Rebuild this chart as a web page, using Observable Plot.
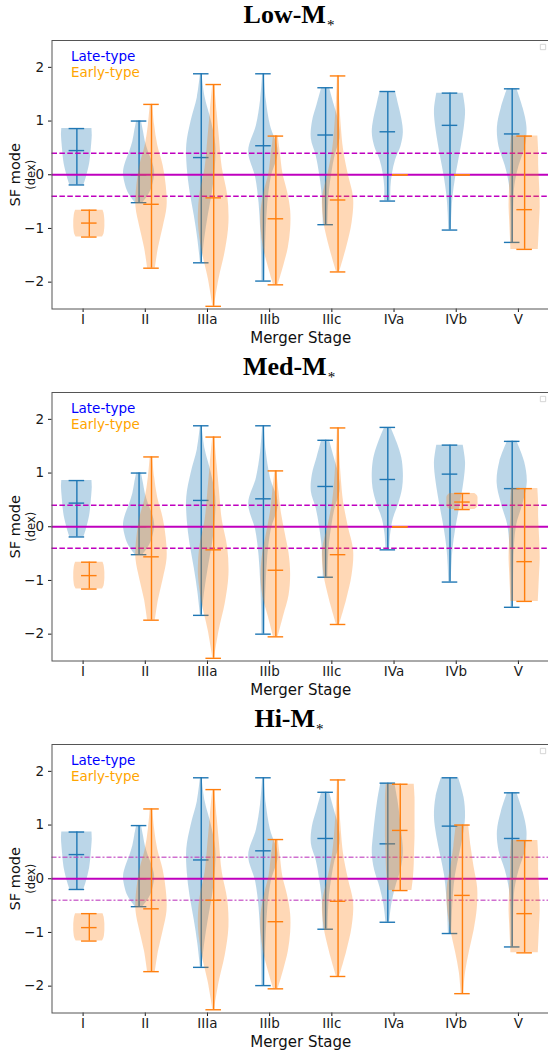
<!DOCTYPE html>
<html>
<head>
<meta charset="utf-8">
<script src="https://cdn.jsdelivr.net/npm/d3@7"></script>
<script src="https://cdn.jsdelivr.net/npm/@observablehq/plot@0.6"></script>
<style>
  html, body { margin: 0; padding: 0; background: #fff; }
  body { width: 548px; height: 1050px; overflow: hidden; }
  #page { position: relative; width: 548px; height: 1050px; }
  .block { position: absolute; left: 0; width: 548px; height: 352px; }
  .title {
    position: absolute; top: 2px; left: 289px; transform: translateX(-50%);
    font: bold 26px "Liberation Serif", "Times New Roman", serif; line-height: 26px;
    white-space: nowrap; color: #000;
  }
  .title .sub { font-size: 15px; font-weight: normal; position: relative; top: 7px; margin-left: 1px; }
  .chart { position: absolute; left: 0; top: 36px; }
</style>
</head>
<body>
<div id="page"></div>
<script>
// Merger stages along the x axis
const stages = ["I", "II", "IIIa", "IIIb", "IIIc", "IVa", "IVb", "V"];
const yTicks = [-2, -1, 0, 1, 2];
const zeroLevel = [0];
const bandLevels = [-0.4, 0.4];

// Violin outlines: relative half-widths sampled evenly from each violin's minimum to its maximum
const shapeLateI    = [0.45, 0.6, 0.72, 0.82, 0.88, 0.92, 0.96, 0.99, 0.97];
const shapeEarlyI   = [0.85, 0.95, 0.98, 1.0, 1.0, 1.0, 0.98, 0.95, 0.88];
const shapeLateII   = [0.25, 0.7, 0.92, 1.0, 0.85, 0.6, 0.4, 0.28, 0.15];
const shapeEarlyII  = [0.25, 0.45, 0.75, 1.0, 0.95, 0.75, 0.4, 0.2, 0.08];
const shapeLateIIIa = [0.05, 0.22, 0.45, 0.72, 0.9, 0.93, 0.65, 0.25, 0.05];
const shapeEarlyIIIa= [0.05, 0.35, 0.75, 0.98, 0.9, 0.55, 0.38, 0.22, 0.06];
const shapeLateIIIb = [0.1, 0.12, 0.18, 0.28, 0.5, 0.95, 0.45, 0.18, 0.05];
const shapeEarlyIIIb= [0.15, 0.5, 0.8, 0.95, 0.95, 0.75, 0.45, 0.3, 0.15];
const shapeEarlyIIIbMed = [0.15, 0.5, 0.85, 0.95, 0.85, 0.6, 0.35, 0.2, 0.06];
const shapeLateIIIc = [0.15, 0.18, 0.25, 0.4, 0.6, 0.92, 0.85, 0.55, 0.25];
const shapeEarlyIIIc= [0.1, 0.55, 0.9, 1.0, 0.65, 0.35, 0.2, 0.1, 0.04];
const shapeLateIVaLow = [0.2, 0.2, 0.3, 0.5, 0.85, 1.0, 0.9, 0.7, 0.5];
const shapeLateIVaMed = [0.12, 0.18, 0.35, 0.7, 0.95, 1.0, 0.9, 0.6, 0.2];
const shapeLateIVaHi  = [0.12, 0.25, 0.5, 0.85, 1.0, 0.92, 0.8, 0.65, 0.45];
const shapeEarlyIVaHi = [0.75, 0.85, 0.9, 0.92, 0.95, 0.95, 0.95, 0.95, 0.9];
const shapeLateIVb    = [0.08, 0.12, 0.2, 0.35, 0.55, 0.75, 0.92, 1.0, 0.85];
const shapeLateIVbHi  = [0.1, 0.15, 0.22, 0.35, 0.6, 0.85, 1.0, 0.9, 0.55];
const shapeEarlyIVbMed= [0.8, 0.95, 1.0, 1.0, 1.0, 1.0, 1.0, 0.95, 0.8];
const shapeEarlyIVbHi = [0.08, 0.2, 0.45, 0.75, 0.95, 0.98, 0.75, 0.55, 0.4];
const shapeLateV      = [0.08, 0.08, 0.1, 0.18, 0.45, 0.85, 0.95, 0.7, 0.3];
const shapeLateVMed   = [0.08, 0.08, 0.1, 0.15, 0.3, 0.7, 0.97, 0.8, 0.3];
const shapeEarlyV     = [0.88, 0.92, 0.96, 1.0, 0.98, 0.94, 0.9, 0.9, 0.85];

// Low-M* : SF mode (dex) extrema and middle line per stage
const lowLateMin  = [-0.19, -0.52, -1.64, -1.98, -0.93, -0.49, -1.03, -1.26];
const lowLateMid  = [0.45, 0.0, 0.32, 0.54, 0.74, 0.80, 0.92, 0.76];
const lowLateMax  = [0.86, 1.00, 1.88, 1.88, 1.62, 1.55, 1.52, 1.60];
const lowEarlyMin = [-1.16, -1.74, -2.45, -2.05, -1.81, 0, 0, -1.39];
const lowEarlyMid = [-0.90, -0.55, -0.43, -0.82, -0.47, 0, 0, -0.65];
const lowEarlyMax = [-0.66, 1.31, 1.68, 0.72, 1.84, 0, 0, 0.72];
const lowLateShape  = [shapeLateI, shapeLateII, shapeLateIIIa, shapeLateIIIb, shapeLateIIIc, shapeLateIVaLow, shapeLateIVb, shapeLateV];
const lowEarlyShape = [shapeEarlyI, shapeEarlyII, shapeEarlyIIIa, shapeEarlyIIIb, shapeEarlyIIIc, null, null, shapeEarlyV];

// Med-M*
const medLateMin  = [-0.19, -0.52, -1.65, -2.00, -0.94, -0.43, -1.03, -1.50];
const medLateMid  = [0.44, 0.0, 0.49, 0.52, 0.75, 0.88, 0.98, 0.71];
const medLateMax  = [0.86, 1.00, 1.88, 1.88, 1.61, 1.85, 1.52, 1.59];
const medEarlyMin = [-1.16, -1.74, -2.45, -2.05, -1.82, 0, 0.32, -1.39];
const medEarlyMid = [-0.91, -0.56, -0.43, -0.81, -0.52, 0, 0.46, -0.65];
const medEarlyMax = [-0.66, 1.30, 1.67, 1.04, 1.84, 0, 0.62, 0.71];
const medLateShape  = [shapeLateI, shapeLateII, shapeLateIIIa, shapeLateIIIb, shapeLateIIIc, shapeLateIVaMed, shapeLateIVb, shapeLateVMed];
const medEarlyShape = [shapeEarlyI, shapeEarlyII, shapeEarlyIIIa, shapeEarlyIIIbMed, shapeEarlyIIIc, null, shapeEarlyIVbMed, shapeEarlyV];

// Hi-M*
const hiLateMin  = [-0.20, -0.52, -1.65, -1.99, -0.94, -0.81, -1.02, -1.27];
const hiLateMid  = [0.45, 0.0, 0.35, 0.52, 0.75, 0.65, 0.98, 0.75];
const hiLateMax  = [0.87, 0.99, 1.88, 1.88, 1.61, 1.78, 1.88, 1.60];
const hiEarlyMin = [-1.16, -1.73, -2.44, -2.05, -1.82, -0.22, -2.14, -1.38];
const hiEarlyMid = [-0.91, -0.56, -0.40, -0.80, -0.42, 0.90, -0.31, -0.65];
const hiEarlyMax = [-0.65, 1.30, 1.66, 0.73, 1.84, 1.76, 1.00, 0.71];
const hiLateShape  = [shapeLateI, shapeLateII, shapeLateIIIa, shapeLateIIIb, shapeLateIIIc, shapeLateIVaHi, shapeLateIVbHi, shapeLateV];
const hiEarlyShape = [shapeEarlyI, shapeEarlyII, shapeEarlyIIIa, shapeEarlyIIIb, shapeEarlyIIIc, shapeEarlyIVaHi, shapeEarlyIVbHi, shapeEarlyV];

const C_LATE = "#1f77b4", C_EARLY = "#ff7f0e";
const HALF_WIDTH = 0.25, CAP_HALF = 0.125;
const LATE_OFFSET = -0.1, EARLY_OFFSET = 0.1;

// Turn per-stage extrema + outline samples into body polygons and line records
function violinData(mins, mids, maxs, shapes, offset, tag) {
  const bodies = [], extents = [];
  stages.forEach((s, i) => {
    const pos = i + 1 + offset;
    extents.push({pos, min: mins[i], mid: mids[i], max: maxs[i]});
    const shape = shapes[i];
    if (!shape) return;
    const n = shape.length;
    shape.forEach((w, k) => {
      const y = mins[i] + (maxs[i] - mins[i]) * k / (n - 1);
      bodies.push({id: tag + i, y, x1: pos - w * HALF_WIDTH, x2: pos + w * HALF_WIDTH});
    });
  });
  return {bodies, extents};
}

function violinMarks(v, color) {
  const spans = v.extents.filter(d => d.max > d.min);
  return [
    Plot.areaX(v.bodies, {y: "y", x1: "x1", x2: "x2", z: "id", fill: color, fillOpacity: 0.3, curve: "catmull-rom"}),
    Plot.ruleX(spans, {x: "pos", y1: "min", y2: "max", stroke: color, strokeWidth: 1.4}),
    ...["min", "mid", "max"].map(k =>
      Plot.ruleY(v.extents, {y: k, x1: d => d.pos - CAP_HALF, x2: d => d.pos + CAP_HALF, stroke: color, strokeWidth: 1.4}))
  ];
}

const fmtY = d => d < 0 ? "\u2212" + Math.abs(d) : String(d);

function panel(late, early, dashStyle) {
  return Plot.plot({
    width: 548, height: 316,
    marginLeft: 51.5, marginRight: -1, marginTop: 4, marginBottom: 43.5,
    style: {fontFamily: "DejaVu Sans, sans-serif", fontSize: "13.5px", color: "#1a1a1a", background: "transparent", overflow: "visible"},
    x: {domain: [0.5, 8.5], ticks: d3.range(1, 9), tickFormat: d => stages[d - 1], tickSize: 3.5, tickPadding: 2, label: null},
    y: {domain: [-2.5, 2.5], ticks: yTicks, tickFormat: fmtY, tickSize: 3.5, tickPadding: 4.5, label: null},
    marks: [
      ...violinMarks(late, C_LATE),
      Plot.ruleY(bandLevels, {stroke: dashStyle.color, strokeWidth: 1.4, strokeDasharray: dashStyle.dash, strokeOpacity: dashStyle.opacity}),
      Plot.ruleY(zeroLevel, {stroke: "#bf00bf", strokeWidth: 2}),
      ...violinMarks(early, C_EARLY),
      Plot.frame({stroke: "#555", strokeWidth: 1}),
      Plot.text(["Late-type"], {frameAnchor: "top-left", dx: 19, dy: 16.5, textAnchor: "start", lineAnchor: "middle", fill: "blue", fontSize: 13.5}),
      Plot.text(["Early-type"], {frameAnchor: "top-left", dx: 19, dy: 32.5, textAnchor: "start", lineAnchor: "middle", fill: "orange", fontSize: 13.5}),
      Plot.dot([0], {frameAnchor: "top-right", dx: -6.5, dy: 6.5, symbol: "square", r: 3, stroke: "#ccc", strokeWidth: 0.8, fill: "white"}),
      Plot.text(["Merger Stage"], {frameAnchor: "bottom", dy: 29, lineAnchor: "middle", textAnchor: "middle", fontSize: 15, fill: "#111"}),
      Plot.text(["SF mode"], {frameAnchor: "left", dx: -36.5, rotate: -90, textAnchor: "middle", lineAnchor: "middle", fontSize: 14.5, fill: "#111"}),
      Plot.text(["(dex)"], {frameAnchor: "left", dx: -21, rotate: -90, textAnchor: "middle", lineAnchor: "middle", fontSize: 11.5, fill: "#111"})
    ]
  });
}

const panelsSpec = [
  {name: "Low", late: [lowLateMin, lowLateMid, lowLateMax, lowLateShape], early: [lowEarlyMin, lowEarlyMid, lowEarlyMax, lowEarlyShape],
   dash: {color: "#bf00bf", dash: "5.5,2.4", opacity: 1}},
  {name: "Med", late: [medLateMin, medLateMid, medLateMax, medLateShape], early: [medEarlyMin, medEarlyMid, medEarlyMax, medEarlyShape],
   dash: {color: "#bf00bf", dash: "5.5,2.4", opacity: 1}},
  {name: "Hi", late: [hiLateMin, hiLateMid, hiLateMax, hiLateShape], early: [hiEarlyMin, hiEarlyMid, hiEarlyMax, hiEarlyShape],
   dash: {color: "#c040c0", dash: "5,2,2,2", opacity: 0.75}}
];

const page = document.getElementById("page");
panelsSpec.forEach((p, k) => {
  const block = document.createElement("div");
  block.className = "block";
  block.style.top = (k * 352) + "px";
  const title = document.createElement("div");
  title.className = "title";
  title.innerHTML = p.name + "-M<span class=\"sub\">*</span>";
  block.appendChild(title);
  const late = violinData(...p.late, LATE_OFFSET, p.name + "L");
  const early = violinData(...p.early, EARLY_OFFSET, p.name + "E");
  const chart = panel(late, early, p.dash);
  chart.classList.add("chart");
  block.appendChild(chart);
  page.appendChild(block);
});
</script>
</body>
</html>
